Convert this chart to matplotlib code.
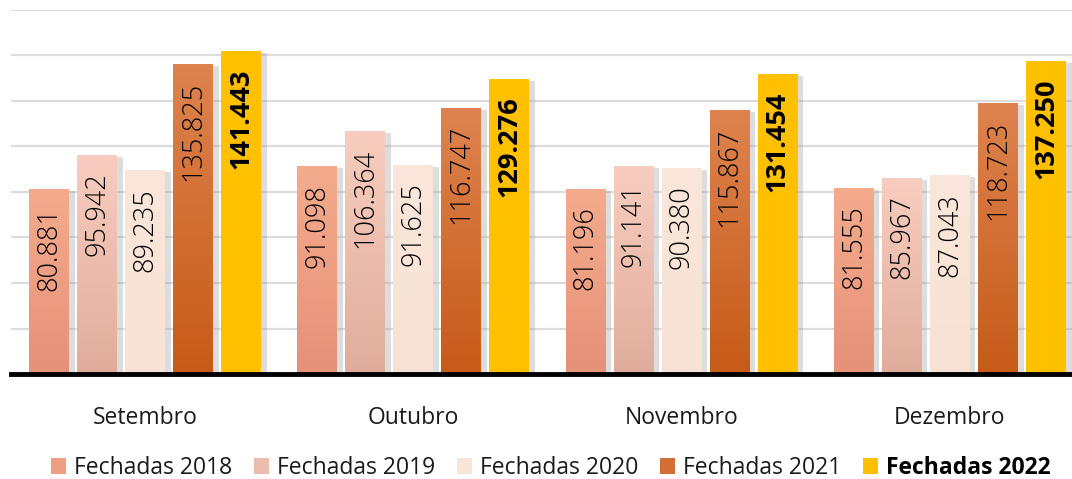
import matplotlib
matplotlib.use('Agg')
import matplotlib.pyplot as plt
import matplotlib.patheffects as pe
from matplotlib.patches import Patch
from matplotlib.colors import LinearSegmentedColormap, to_rgb
import numpy as np

plt.rcParams['font.family'] = ['Open Sans', 'DejaVu Sans']

months = ['Setembro', 'Outubro', 'Novembro', 'Dezembro']
series = ['Fechadas 2018', 'Fechadas 2019', 'Fechadas 2020', 'Fechadas 2021', 'Fechadas 2022']
v2018 = [80.881, 91.098, 81.196, 81.555]
v2019 = [95.942, 106.364, 91.141, 85.967]
v2020 = [89.235, 91.625, 90.380, 87.043]
v2021 = [135.825, 116.747, 115.867, 118.723]
v2022 = [141.443, 129.276, 131.454, 137.250]
values = [v2018, v2019, v2020, v2021, v2022]

# (top colour, bottom colour) for each series
grads = [
    ('#f4ab8c', '#e6917a'),
    ('#f8cdbf', '#e0ad9c'),
    ('#fae6da', '#f8e2d5'),
    ('#de834f', '#c65b18'),
    ('#ffc000', '#ffc000'),
]

fig = plt.figure(figsize=(10.72, 4.79), dpi=100)
ax = fig.add_axes([0.0103, 0.219, 0.9897, 0.761])

ax.set_yticks(np.arange(0, 161, 20))
ax.yaxis.grid(True, color='#dcdcdc', linewidth=1.6)
ax.set_axisbelow(True)
for s in ['left', 'right', 'top']:
    ax.spines[s].set_visible(False)
ax.spines['bottom'].set_linewidth(3.5)
ax.spines['bottom'].set_color('black')
ax.spines['bottom'].set_zorder(10)
ax.tick_params(axis='y', left=False, labelleft=False)
ax.set_xticks(range(len(months)))
ax.set_xticklabels(months, fontsize=16.5, color='#1a1a1a')
ax.tick_params(axis='x', length=0, pad=23)

x = np.arange(len(months))
step = 0.179
width = 0.149

for i, (vals, (ctop, cbot)) in enumerate(zip(values, grads)):
    pos = x + (i - 2) * step
    bars = ax.bar(pos, vals, width, color=ctop, zorder=2,
                  path_effects=[pe.SimplePatchShadow(offset=(4, -1), shadow_rgbFace='#a0a0a0', alpha=0.35),
                                pe.Normal()])
    cmap = LinearSegmentedColormap.from_list('g%d' % i, [cbot, ctop])
    grad = np.linspace(0, 1, 100).reshape(-1, 1)
    bold = i == 4
    for b, v in zip(bars, vals):
        x0, w, h = b.get_x(), b.get_width(), b.get_height()
        ax.imshow(grad, extent=(x0, x0 + w, 0, h), origin='lower', cmap=cmap,
                  aspect='auto', zorder=3)
        ax.text(x0 + w / 2, h - 7.5, f'{v:.3f}', rotation=90, ha='center', va='top',
                fontsize=19.5, color='black', zorder=4,
                fontweight='bold' if bold else 'light')

ax.set_xlim(-0.5, 3.455)
ax.set_ylim(0, 160)

handles = [Patch(facecolor=(np.array(to_rgb(t)) + np.array(to_rgb(b))) / 2, edgecolor='none')
           for t, b in grads]
leg = fig.legend(handles, series, loc='center', bbox_to_anchor=(0.514, 0.023), ncol=5,
                 frameon=False, fontsize=16.5, handlelength=0.65, handleheight=0.65,
                 handletextpad=0.35, columnspacing=0.95)
for t in leg.get_texts():
    t.set_color('#1a1a1a')
leg.get_texts()[-1].set_fontweight('bold')
leg.get_texts()[-1].set_color('black')

fig.savefig('out.png', dpi=100, facecolor='white')
